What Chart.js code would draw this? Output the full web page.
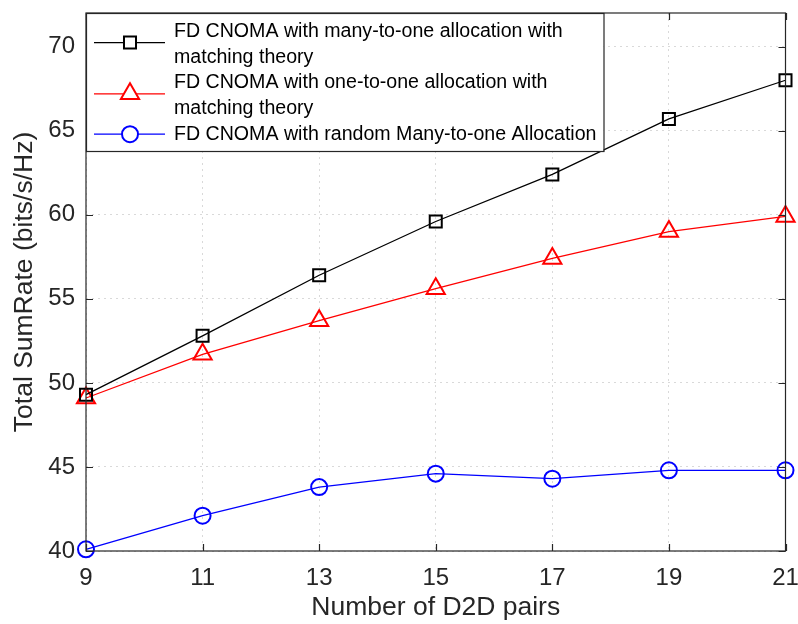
<!DOCTYPE html>
<html>
<head>
<meta charset="utf-8">
<script src="https://cdn.jsdelivr.net/npm/chart.js@4.4.0/dist/chart.umd.min.js"></script>
<style>
  html, body { margin: 0; padding: 0; background: #fff; }
  #wrap { width: 798px; height: 624px; }
</style>
</head>
<body>
<div id="wrap"><canvas id="chart" width="798" height="624"></canvas></div>
<script>
// data
const d2dPairs = [9, 11, 13, 15, 17, 19, 21];
const manyToOneMatching = [49.3, 52.8, 56.4, 59.6, 62.4, 65.7, 68.0];
const oneToOneMatching = [49.1, 51.7, 53.7, 55.6, 57.4, 59.0, 59.9];
const randomManyToOne = [40.1, 42.1, 43.8, 44.6, 44.3, 44.8, 44.8];
const xTicks = [9, 11, 13, 15, 17, 19, 21];
const yTicks = [40, 45, 50, 55, 60, 65, 70];
const legendLabels = [
    ["FD CNOMA with many-to-one allocation with", "matching theory"],
    ["FD CNOMA with one-to-one allocation with", "matching theory"],
    ["FD CNOMA with random Many-to-one Allocation"]
];

const FONT = "'Liberation Sans', Arial, Helvetica, sans-serif";

function toPoints(ys){
    return d2dPairs.map((x, i) => ({x: x, y: ys[i]}));
}

// box around the plot with inward tick marks
const framePlugin = {
    id: "frame",
    afterDatasetsDraw(chart){
        const {ctx, chartArea: a, scales} = chart;
        const len = 7;
        ctx.save();
        ctx.strokeStyle = "#262626";
        ctx.lineWidth = 1.2;
        ctx.strokeRect(a.left, a.top, a.right - a.left, a.bottom - a.top);
        ctx.beginPath();
        xTicks.forEach(v => {
            const px = Math.round(scales.x.getPixelForValue(v)) + 0.5;
            ctx.moveTo(px, a.bottom); ctx.lineTo(px, a.bottom - len);
            ctx.moveTo(px, a.top); ctx.lineTo(px, a.top + len);
        });
        yTicks.forEach(v => {
            const py = Math.round(scales.y.getPixelForValue(v)) + 0.5;
            ctx.moveTo(a.left, py); ctx.lineTo(a.left + len, py);
            ctx.moveTo(a.right, py); ctx.lineTo(a.right - len, py);
        });
        ctx.stroke();
        ctx.restore();
    }
};

// matlab style legend box in the upper left corner
const legendPlugin = {
    id: "boxLegend",
    afterDraw(chart){
        const {ctx, chartArea: a} = chart;
        const lineH = 25.6;
        const textX = a.left + 88;
        ctx.save();
        ctx.font = "19.6px " + FONT;
        let maxW = 0;
        legendLabels.forEach(lines => lines.forEach(t => { maxW = Math.max(maxW, ctx.measureText(t).width); }));
        const rows = legendLabels.reduce((s, l) => s + l.length, 0);
        const boxX = a.left, boxY = a.top;
        const boxW = textX - boxX + maxW + 7;
        const boxH = rows * lineH + 10;
        ctx.fillStyle = "#fff";
        ctx.fillRect(boxX, boxY, boxW, boxH);
        ctx.strokeStyle = "#262626";
        ctx.lineWidth = 1.2;
        ctx.strokeRect(boxX + 0.5, boxY + 0.5, boxW, boxH);

        let y = boxY + 6 + lineH / 2;
        legendLabels.forEach((lines, i) => {
            const ds = chart.data.datasets[i];
            const my = y + (lines.length - 1) * lineH / 2 - (lines.length > 1 ? 2 : 0);
            ctx.strokeStyle = ds.borderColor;
            ctx.lineWidth = ds.borderWidth;
            ctx.beginPath();
            ctx.moveTo(boxX + 8, my);
            ctx.lineTo(boxX + 79, my);
            ctx.stroke();
            ctx.fillStyle = "#fff";
            ctx.lineWidth = ds.pointBorderWidth;
            Chart.helpers.drawPoint(ctx, {
                pointStyle: ds.pointStyle,
                radius: ds.pointRadius,
                borderWidth: ds.pointBorderWidth,
                rotation: 0
            }, boxX + 44, my);
            ctx.fillStyle = "#000";
            ctx.textBaseline = "middle";
            lines.forEach(t => {
                ctx.fillText(t, textX, y);
                y += lineH;
            });
        });
        ctx.restore();
    }
};

function seriesDataset(ys, color, style, radius){
    return {
        data: toPoints(ys),
        borderColor: color,
        backgroundColor: "rgba(0,0,0,0)",
        borderWidth: 1.3,
        pointStyle: style,
        pointRadius: radius,
        pointHoverRadius: radius,
        pointBorderWidth: 2,
        pointBackgroundColor: "rgba(0,0,0,0)",
        pointBorderColor: color,
        tension: 0,
        clip: false
    };
}

const ctx = document.getElementById("chart").getContext("2d");
new Chart(ctx, {
    type: "line",
    data: {
        datasets: [
            seriesDataset(manyToOneMatching, "#000000", "rect", 8.5),
            seriesDataset(oneToOneMatching, "#ff0000", "triangle", 10.5),
            seriesDataset(randomManyToOne, "#0000ff", "circle", 8)
        ]
    },
    options: {
        responsive: false,
        animation: false,
        events: [],
        layout: { padding: { left: 0, right: 10, top: 13, bottom: 0 } },
        plugins: { legend: { display: false }, tooltip: { enabled: false } },
        scales: {
            x: {
                type: "linear",
                min: 9,
                max: 21,
                afterFit(scale){ scale.height = 73; scale.paddingLeft = 0; scale.paddingRight = 0; },
                afterBuildTicks(scale){ scale.ticks = xTicks.map(v => ({value: v})); },
                ticks: { color: "#262626", font: { family: FONT, size: 24 }, padding: 13, maxRotation: 0 },
                grid: { color: "#d9d9d9", lineWidth: 1, drawTicks: false },
                border: { display: false, dash: [2, 4] },
                title: { display: true, text: "Number of D2D pairs", color: "#262626",
                         font: { family: FONT, size: 26.5 }, padding: { top: -4, bottom: 0 } }
            },
            y: {
                type: "linear",
                min: 40,
                max: 72,
                afterFit(scale){ scale.width = 86; scale.paddingTop = 0; scale.paddingBottom = 0; },
                afterBuildTicks(scale){ scale.ticks = yTicks.map(v => ({value: v})); },
                ticks: { color: "#262626", font: { family: FONT, size: 24 }, padding: 11 },
                grid: { color: "#d9d9d9", lineWidth: 1, drawTicks: false },
                border: { display: false, dash: [2, 4] },
                title: { display: true, text: "Total SumRate (bits/s/Hz)", color: "#262626",
                         font: { family: FONT, size: 26.5 }, padding: { top: 8.5, bottom: 0 } }
            }
        }
    },
    plugins: [framePlugin, legendPlugin]
});
</script>
</body>
</html>
